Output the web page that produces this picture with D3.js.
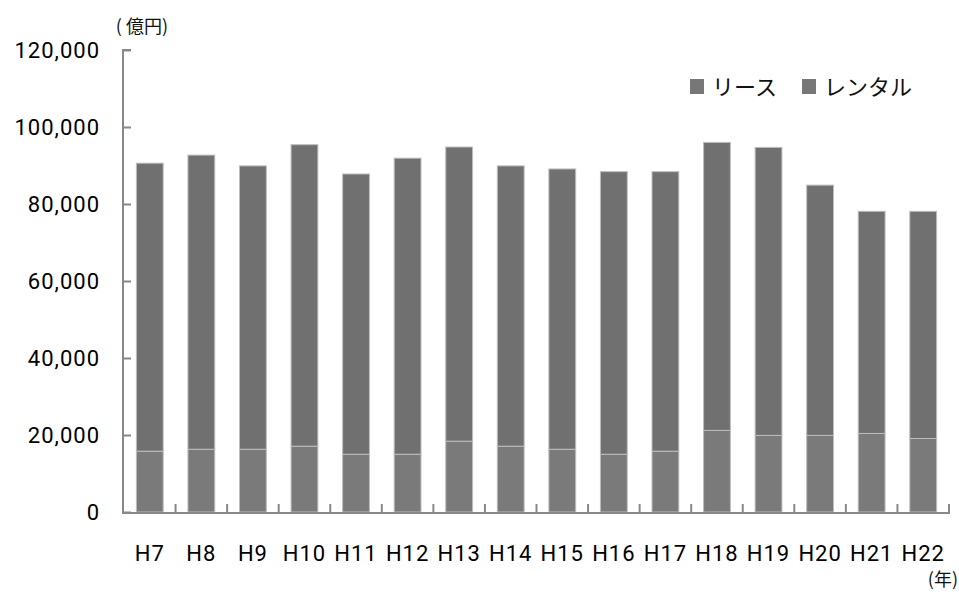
<!DOCTYPE html>
<html><head><meta charset="utf-8">
<script src="https://cdn.jsdelivr.net/npm/d3@7"></script>
<style>body{margin:0;background:#fff}svg{display:block}text{font-family:"Noto Sans CJK JP","Noto Sans",sans-serif;fill:#111}.num{font-family:Roboto,"Noto Sans",sans-serif;font-weight:400;fill:#000}</style>
</head><body>
<svg id="c" width="959" height="592"></svg>
<script>
const categories = ["H7","H8","H9","H10","H11","H12","H13","H14","H15","H16","H17","H18","H19","H20","H21","H22"];
const lease  = [74800,76400,73600,78300,72800,76900,76400,72800,72800,73400,72600,74800,74800,65000,57700,59000];
const rental = [15800,16300,16300,17100,15000,15000,18400,17100,16300,15000,15800,21200,19900,19900,20400,19100];
const yTicks = [0,20000,40000,60000,80000,100000,120000];
const seriesNames = ["リース","レンタル"];
const colors = {lease:"#707070", rental:"#7a7a7a"};

const svg = d3.select("#c");
const L=124, R=949, T=50, B=512;
const x = d3.scaleBand().domain(categories).range([L,R]).paddingInner(0.48).paddingOuter(0.24);
const y = d3.scaleLinear().domain([0,120000]).range([B,T]);

const data = categories.map((c,i)=>({c, rental:rental[i], lease:lease[i]}));
const stack = d3.stack().keys(["rental","lease"])(data);

svg.append("g").selectAll("g").data(stack).join("g")
  .attr("fill", d=>colors[d.key])
  .selectAll("rect").data(d=>d).join("rect")
  .attr("x", d=>x(d.data.c)).attr("width", x.bandwidth())
  .attr("y", d=>y(d[1])).attr("height", d=>y(d[0])-y(d[1]))
  .attr("stroke","#bdbdbd").attr("stroke-width",1);

// Y axis
const ya = svg.append("g").attr("transform",`translate(${L-1},0)`)
  .call(d3.axisRight(y).tickValues(yTicks).tickSize(8).tickFormat(""));
ya.select(".domain").attr("stroke","#888").attr("stroke-width",2).attr("d",`M8,${T}H0V${B}`);
ya.selectAll(".tick line").attr("stroke","#888").attr("stroke-width",2);
svg.append("g").selectAll("text").data(yTicks).join("text").attr("class","num")
  .attr("x",100).attr("y",d=>y(d)).attr("dy","0.36em").attr("text-anchor","end")
  .attr("font-size",22).attr("letter-spacing",1).text(d=>d3.format(",")(d));

// X axis with boundary ticks
const bounds = d3.range(categories.length+1).map(i=>L + i*(R-L)/categories.length);
svg.append("line").attr("x1",L-2).attr("x2",R+1).attr("y1",B+1).attr("y2",B+1).attr("stroke","#888").attr("stroke-width",2);
svg.append("g").selectAll("line").data(bounds.slice(1)).join("line")
  .attr("x1",d=>d).attr("x2",d=>d).attr("y1",B).attr("y2",B-8).attr("stroke","#888").attr("stroke-width",2);
svg.append("g").selectAll("text").data(categories).join("text").attr("class","num")
  .attr("x",d=>x(d)+x.bandwidth()/2).attr("y",561).attr("text-anchor","middle")
  .attr("font-size",22).attr("letter-spacing",1).text(d=>d);

svg.append("text").attr("x",168).attr("y",33).attr("text-anchor","end").attr("font-size",18).text("( 億円)");
svg.append("text").attr("x",958).attr("y",586).attr("text-anchor","end").attr("font-size",18).text("(年)");

// Legend
const lg = svg.append("g");
const legItems = [{n:seriesNames[0],x:690,k:"lease"},{n:seriesNames[1],x:802,k:"rental"}];
lg.selectAll("rect").data(legItems).join("rect")
  .attr("x",d=>d.x).attr("y",79).attr("width",14).attr("height",15).attr("fill","#777");
lg.selectAll("text").data(legItems).join("text")
  .attr("x",d=>d.x+22).attr("y",87).attr("dy","0.36em").attr("font-size",22).text(d=>d.n);
</script>
</body></html>
